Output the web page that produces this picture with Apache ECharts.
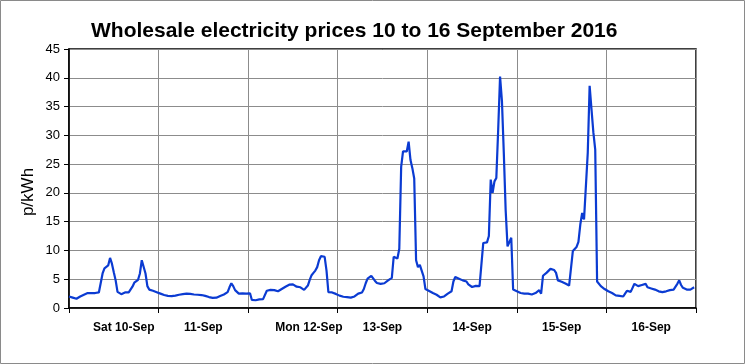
<!DOCTYPE html>
<html>
<head>
<meta charset="utf-8">
<script src="https://cdn.jsdelivr.net/npm/echarts@6/dist/echarts.min.js"></script>
<style>html,body{margin:0;padding:0;background:#fff;}#c{width:745px;height:364px;}</style>
</head>
<body>
<div id="c"></div>
<script>
// Half-hourly prices (p/kWh), 48 per day
const sat10 = [2.0,1.9,1.8,1.7,1.6,1.8,2.0,2.2,2.3,2.5,2.6,2.6,2.6,2.7,2.6,2.6,2.7,3.0,6.0,6.9,7.2,7.4,8.7,7.7,6.2,4.8,2.8,2.6,2.4,2.4,2.7,2.7,2.7,2.7,3.7,4.4,4.6,4.9,6.0,8.3,8.2,6.0,3.8,3.2,3.1,3.0,2.8,2.75];
const sun11 = [2.7,2.5,2.35,2.25,2.15,2.1,2.05,2.05,2.1,2.15,2.2,2.3,2.5,2.4,2.3,2.5,2.55,2.45,2.35,2.35,2.3,2.3,2.3,2.25,2.2,2.1,2.0,1.9,1.8,1.75,1.7,1.8,1.95,2.1,2.25,2.35,2.5,2.75,3.6,4.3,3.8,3.1,2.8,2.5,2.5,2.55,2.5,2.5];
const mon12 = [2.55,2.55,1.4,1.35,1.35,1.35,1.5,1.55,1.55,1.6,3.0,3.1,3.15,3.05,3.1,3.15,2.9,3.05,3.3,3.5,3.7,3.9,4.05,4.15,4.1,3.9,3.7,3.5,3.6,3.4,3.15,3.45,3.9,4.9,5.7,6.1,6.5,7.1,8.3,9.0,9.2,8.9,6.5,2.75,2.75,2.7,2.6,2.45];
const tue13 = [2.35,2.15,2.0,1.95,1.95,1.9,1.85,1.8,1.85,2.0,2.3,2.5,2.7,2.7,3.3,4.3,5.1,5.3,5.6,5.3,4.7,4.35,4.2,4.2,4.2,4.3,4.5,4.8,5.0,5.25,8.9,8.9,8.6,10.3,24.5,27.2,27.5,27.2,28.9,25.7,24.3,22.5,8.3,7.1,7.5,7.3,5.5,3.3];
const wed14 = [3.1,2.95,2.8,2.6,2.45,2.3,2.05,1.85,1.85,2.0,2.2,2.5,2.8,2.9,4.6,5.4,5.6,5.1,4.9,4.8,4.9,4.6,4.1,3.8,3.65,3.6,3.85,3.8,3.8,3.8,11.3,11.4,11.4,12.5,22.3,20.0,22.0,22.6,31.0,40.2,36.0,27.0,17.0,10.7,10.4,12.2,3.2,3.0];
const thu15 = [2.9,2.75,2.6,2.5,2.5,2.5,2.5,2.45,2.35,2.4,2.6,2.85,3.1,2.5,5.6,5.9,6.15,6.4,6.8,6.95,6.6,6.1,4.8,4.65,4.55,4.35,4.25,4.1,3.9,3.9,9.9,10.1,10.6,11.5,14.5,16.5,15.4,15.1,27.0,38.6,34.5,30.5,27.5,4.6,4.35,3.8,3.5,3.3];
const fri16 = [3.1,2.9,2.75,2.6,2.4,2.2,2.05,2.1,2.2,2.0,2.5,3.0,2.9,2.8,3.5,4.2,4.2,3.8,3.9,4.0,4.1,4.2,3.6,3.5,3.4,3.3,3.2,3.05,2.9,2.75,2.75,2.8,2.9,3.0,3.1,3.15,3.2,3.5,4.2,4.8,4.0,3.5,3.35,3.2,3.2,3.2,3.5,3.6];

const dayLabels = ['Sat 10-Sep','11-Sep','Mon 12-Sep','13-Sep','14-Sep','15-Sep','16-Sep'];
const yTicks = [0,5,10,15,20,25,30,35,40,45];
const titleText = 'Wholesale electricity prices 10 to 16 September 2016';
const yName = 'p/kWh';

const values = [].concat(sat10, sun11, mon12, tue13, wed14, thu15, fri16);
const seriesData = values.map((v, i) => [i, v]);

const chart = echarts.init(document.getElementById('c'), null, {renderer: 'canvas'});
const FONT = 'Liberation Sans';
chart.setOption({
  animation: false,
  backgroundColor: '#ffffff',
  title: {
    text: titleText,
    left: 86, top: 16,
    textStyle: {fontFamily: FONT, fontSize: 21, fontWeight: 'bold', color: '#000'}
  },
  grid: {left: 69, right: 49, top: 49, bottom: 56, show: true, borderColor: '#000', borderWidth: 1.5, backgroundColor: 'transparent'},
  xAxis: [{
    type: 'value', min: 0, max: values.length, interval: 48,
    axisLine: {show: true, lineStyle: {color: '#000', width: 1.5}},
    axisTick: {show: true, length: 5, lineStyle: {color: '#000', width: 1}},
    axisLabel: {show: false},
    splitLine: {show: true, lineStyle: {color: '#8c8c8c', width: 1}}
  }, {
    type: 'category', data: dayLabels, position: 'bottom', boundaryGap: true,
    axisLine: {show: false}, axisTick: {show: false}, splitLine: {show: false},
    axisLabel: {
      interval: 0, margin: 14,
      fontFamily: FONT, fontSize: 12, fontWeight: 'bold', color: '#000',
      formatter: function (v) {
        if (v === dayLabels[0]) return '{a|' + v + '}';
        if (v === dayLabels[2]) return '{b|' + v + '}';
        return v;
      },
      rich: {
        a: {fontFamily: FONT, fontSize: 12, fontWeight: 'bold', color: '#000', padding: [0, 0, 0, 20]},
        b: {fontFamily: FONT, fontSize: 12, fontWeight: 'bold', color: '#000', padding: [0, 0, 0, 32]}
      }
    }
  }],
  yAxis: {
    type: 'value', min: yTicks[0], max: yTicks[yTicks.length - 1], interval: 5,
    axisLine: {show: true, lineStyle: {color: '#000', width: 1.5}},
    axisTick: {show: true, length: 5, lineStyle: {color: '#000', width: 1}},
    axisLabel: {margin: 9, fontFamily: FONT, fontSize: 13, color: '#000'},
    splitLine: {show: true, lineStyle: {color: '#8c8c8c', width: 1}}
  },
  series: [{
    type: 'line', xAxisIndex: 0, data: seriesData, showSymbol: false,
    lineStyle: {color: '#0b3bd2', width: 2.2}, z: 5
  }],
  graphic: [
    {type: 'rect', shape: {x: 0.5, y: 0.5, width: 744, height: 363}, style: {fill: 'none', stroke: '#8a8a8a', lineWidth: 1}, silent: true},
    {type: 'text', x: 28, y: 192, rotation: Math.PI / 2,
     style: {text: yName, fontFamily: FONT, fontSize: 17, fill: '#000', textAlign: 'center', textVerticalAlign: 'middle'}}
  ]
});
</script>
</body>
</html>
